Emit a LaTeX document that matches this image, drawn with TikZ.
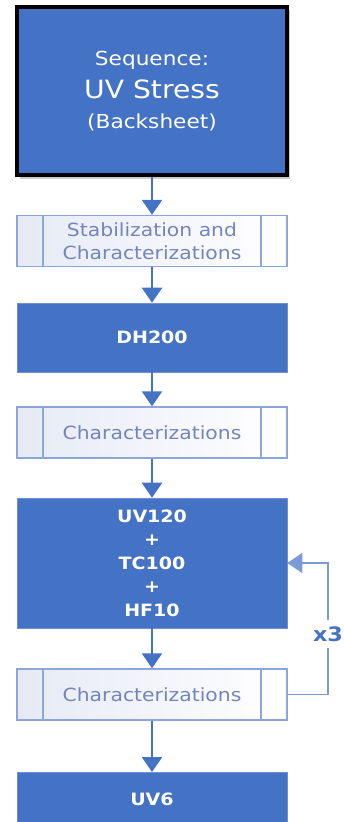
\documentclass[tikz,border=0pt]{standalone}
\usepackage{fontspec}
\setmainfont{DejaVu Sans}[FakeStretch=1.12]
\usetikzlibrary{arrows.meta,shadows}

\definecolor{boxblue}{HTML}{4472C4}
\definecolor{edgeblue}{HTML}{6F8FD2}
\definecolor{loopblue}{HTML}{7C9BD6}
\definecolor{proctext}{HTML}{7386BC}
\definecolor{procfill}{HTML}{E6EAF5}

\begin{document}
\begin{tikzpicture}[x=0.03cm,y=-0.03cm,
	stepblue/.style={rectangle, fill=boxblue, draw=edgeblue, line width=0.5pt, minimum width=8.1cm, text=white, font=\fontsize{14.5}{20}\selectfont\bfseries, align=center},
	procbox/.style={rectangle, left color=procfill, right color=white, draw=edgeblue!80, line width=1.2pt, minimum width=8.1cm, minimum height=1.53cm, text=proctext, font=\fontsize{15.5}{20}\selectfont, align=center,
		path picture={\draw[edgeblue!80, line width=1.2pt] ([xshift=0.78cm]path picture bounding box.north west) -- ([xshift=0.78cm]path picture bounding box.south west);
			\draw[edgeblue!80, line width=1.2pt] ([xshift=-0.78cm]path picture bounding box.north east) -- ([xshift=-0.78cm]path picture bounding box.south east);}},
	flow/.style={boxblue, line width=2pt, -{Triangle[width=0.6cm,length=0.45cm]}}]
\useasboundingbox (0,0) rectangle (344,822);
\clip (0,0) rectangle (344,822);

\node[rectangle, fill=boxblue, draw=black, line width=3.4pt, minimum width=8.1cm, minimum height=5.05cm, text=white, align=center,
	drop shadow={fill=black, opacity=0.2, shadow xshift=0.08cm, shadow yshift=-0.1cm}] (seq) at (152,91)
	{\fontsize{16.5}{20}\selectfont Sequence:\\[8pt]
	 \fontsize{21.5}{24}\selectfont UV Stress\\[11pt]
	 \fontsize{16.5}{20}\selectfont (Backsheet)};

\node[procbox] (stab) at (152,241) {Stabilization and\\Characterizations};
\node[stepblue, minimum height=2.07cm] (dh) at (152,337.5) {DH200};
\node[procbox] (char1) at (152,432.5) {Characterizations};
\node[stepblue, minimum height=3.9cm] (uv) at (152,563) {UV120\\+\\TC100\\+\\HF10};
\node[procbox] (char2) at (152,694.5) {Characterizations};
\node[stepblue, minimum height=1.6cm] (uvsix) at (152,799) {UV6};

\foreach \from/\to in {seq/stab, stab/dh, dh/char1, char1/uv, uv/char2, char2/uvsix}
	\draw[flow] (\from) -- (\to);

% repeat loop
\node[text=boxblue, font=\fontsize{17}{20}\selectfont\bfseries, inner sep=5pt] (rep) at (328,634) {x3};
\draw[loopblue, line width=1.5pt] (char2.east) -| (rep.south);
\draw[loopblue, line width=1.5pt, -{Triangle[width=0.6cm,length=0.45cm]}] (rep.north) |- (uv.east);

\end{tikzpicture}
\end{document}
